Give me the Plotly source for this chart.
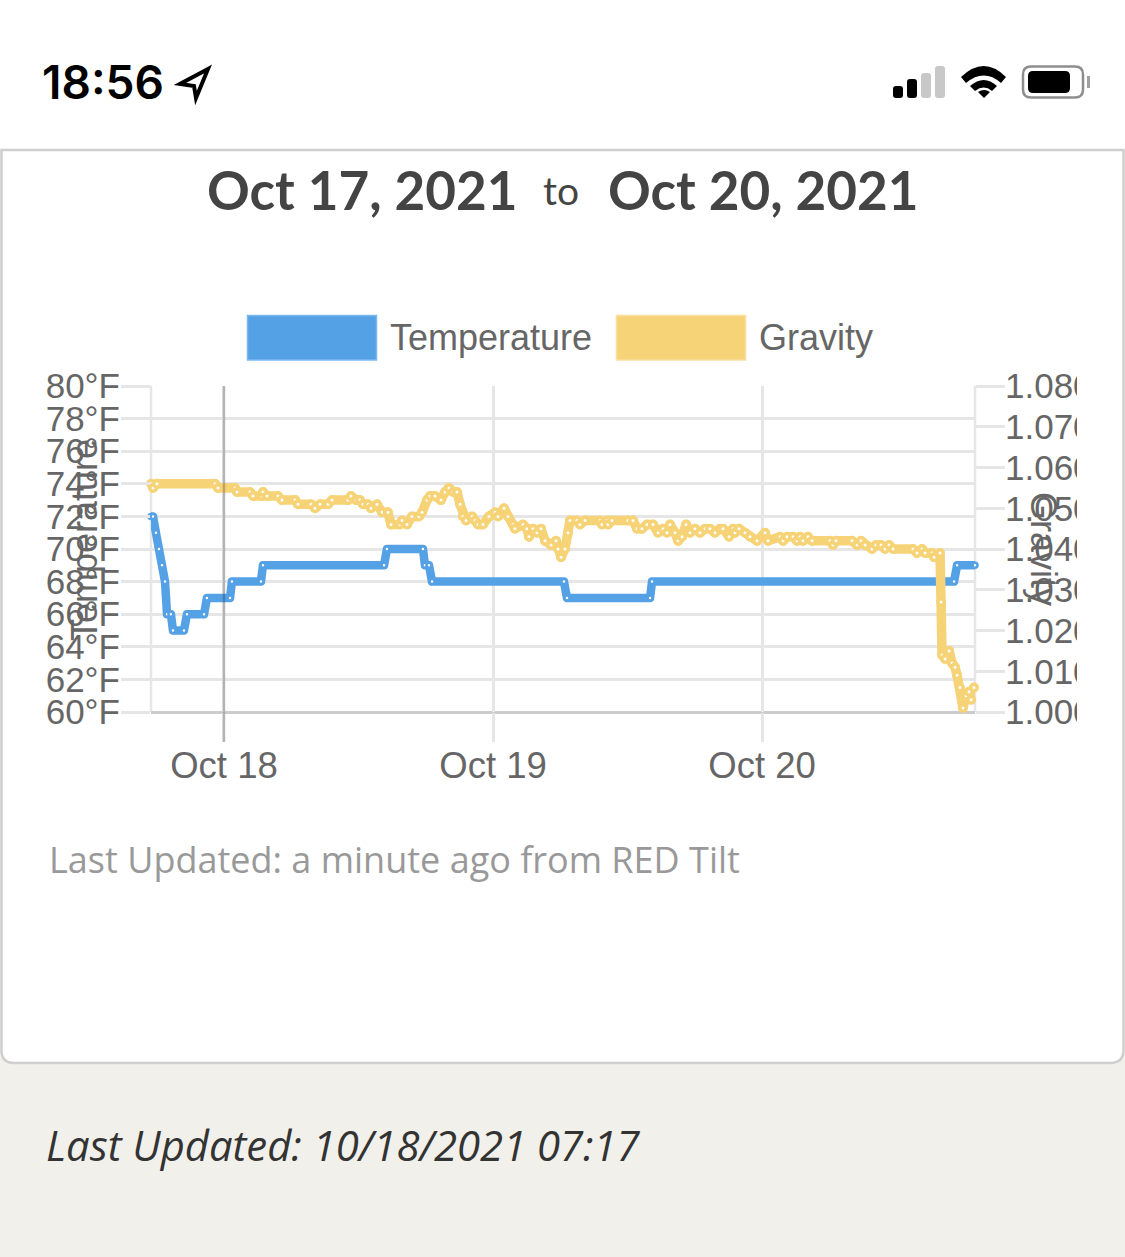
import pandas as pd
import plotly.graph_objects as go

W, H = 1125, 1257

# ---------- data (hours since 2021-10-17 00:00) ----------
temp_hours = [17.49, 17.67, 17.93, 18.20, 18.47, 18.74, 18.92, 19.27, 19.45, 20.43, 20.70, 22.22, 22.48,
              24.54, 24.71, 27.30, 27.48, 38.28, 38.54, 41.75, 41.93, 42.29, 42.56, 54.33, 54.60, 62.01,
              62.19, 89.13, 89.40, 91.00]
temp_values = [72, 72, 71, 70, 69, 68, 66, 66, 65, 65, 66, 66, 67,
               67, 68, 68, 69, 69, 70, 70, 69, 69, 68, 68, 67, 67,
               68, 68, 69, 69]

gravity_hours = [17.49, 17.67, 18.02, 23.20, 23.47, 24.98, 25.16, 26.32, 26.59, 27.39, 27.48, 27.84, 28.82,
                 29.18, 30.35, 30.60, 31.76, 32.12, 32.57, 33.28, 33.64, 35.06, 35.33, 35.78, 36.13, 36.40,
                 36.85, 37.11, 37.65, 38.10, 38.63, 38.90, 39.70, 39.88, 40.33, 40.77, 41.40, 41.67, 42.11,
                 42.38, 42.83, 43.36, 43.72, 44.07, 44.43, 44.79, 45.06, 45.32, 45.59, 46.13, 46.39, 46.66,
                 47.11, 47.64, 48.18, 48.45, 48.98, 49.34, 49.79, 49.96, 50.68, 51.03, 51.21, 51.57, 51.92,
                 52.28, 52.64, 53.18, 53.62, 53.80, 54.07, 54.42, 54.69, 54.87, 55.49, 55.76, 56.21, 57.55,
                 57.72, 58.17, 58.26, 58.62, 60.04, 60.49, 60.85, 61.29, 61.74, 62.28, 62.72, 63.17, 63.52,
                 63.79, 64.24, 64.51, 64.86, 65.22, 65.58, 66.02, 66.47, 66.92, 67.36, 67.81, 68.25, 68.52,
                 69.06, 69.41, 69.59, 69.95, 70.48, 70.93, 71.55, 72.27, 72.54, 73.61, 73.88, 74.23, 74.77,
                 75.12, 75.39, 75.66, 76.10, 76.46, 78.07, 78.33, 78.60, 80.03, 80.48, 80.83, 81.19, 81.81,
                 82.17, 82.62, 82.97, 83.33, 83.69, 85.47, 85.83, 86.28, 86.54, 87.17, 87.35, 87.88, 87.97,
                 88.06, 88.33, 88.69, 88.95, 89.22, 89.40, 89.66, 89.93, 90.20, 90.47, 90.65, 90.91]
gravity_values = [1.056, 1.055, 1.056, 1.056, 1.055, 1.055, 1.054, 1.054, 1.053, 1.053, 1.054, 1.053, 1.053,
                  1.052, 1.052, 1.051, 1.051, 1.050, 1.051, 1.051, 1.052, 1.052, 1.053, 1.052, 1.052, 1.051,
                  1.051, 1.050, 1.051, 1.049, 1.049, 1.046, 1.046, 1.047, 1.046, 1.048, 1.048, 1.049, 1.052,
                  1.053, 1.053, 1.052, 1.054, 1.055, 1.054, 1.054, 1.051, 1.048, 1.047, 1.048, 1.047, 1.046,
                  1.046, 1.048, 1.049, 1.048, 1.050, 1.048, 1.046, 1.045, 1.046, 1.045, 1.043, 1.045, 1.044,
                  1.045, 1.042, 1.041, 1.042, 1.040, 1.038, 1.040, 1.044, 1.047, 1.047, 1.046, 1.047, 1.047,
                  1.046, 1.047, 1.046, 1.047, 1.047, 1.047, 1.045, 1.045, 1.046, 1.046, 1.044, 1.045, 1.044,
                  1.046, 1.044, 1.042, 1.043, 1.046, 1.044, 1.045, 1.044, 1.045, 1.045, 1.044, 1.045, 1.045,
                  1.043, 1.045, 1.044, 1.045, 1.044, 1.043, 1.042, 1.044, 1.042, 1.043, 1.042, 1.043, 1.043,
                  1.042, 1.043, 1.042, 1.043, 1.042, 1.042, 1.041, 1.042, 1.042, 1.041, 1.042, 1.041, 1.040,
                  1.041, 1.041, 1.040, 1.041, 1.040, 1.040, 1.039, 1.040, 1.039, 1.039, 1.038, 1.039, 1.027,
                  1.014, 1.013, 1.015, 1.012, 1.011, 1.009, 1.006, 1.001, 1.004, 1.005, 1.003, 1.006]

series_names = ["Temperature", "Gravity"]
date_from, date_to = "Oct 17, 2021", "Oct 20, 2021"

# ---------- styles ----------
BLUE, YELLOW = "#55a1e6", "#f7d377"
GRID, TICKTXT = "#e6e6e6", "#666666"
base = pd.Timestamp("2021-10-17")
to_dt = lambda hs: [base + pd.Timedelta(hours=h) for h in hs]
px = lambda x: x / W
py = lambda y: 1 - y / H
SANS = "Liberation Sans"


def P(*cmds):
    out = []
    for c in cmds:
        if isinstance(c, str):
            out.append(c)
        else:
            out.append(f"{px(c[0]):.5f},{py(c[1]):.5f}")
    return " ".join(out)


def rect(x0, y0, x1, y1, fill, line=None, lw=0, layer="below"):
    return dict(type="rect", xref="paper", yref="paper", x0=px(x0), x1=px(x1), y0=py(y0), y1=py(y1),
                fillcolor=fill, line=dict(color=line or fill, width=lw), layer=layer)


def path(d, fill, line=None, lw=0, layer="below"):
    return dict(type="path", xref="paper", yref="paper", path=d, fillcolor=fill,
                line=dict(color=line or fill, width=lw), layer=layer)


def rrect(x0, y0, x1, y1, r, fill, line=None, lw=0):
    return path(P("M", (x0 + r, y0), "L", (x1 - r, y0), "Q", (x1, y0), (x1, y0 + r), "L", (x1, y1 - r),
                  "Q", (x1, y1), (x1 - r, y1), "L", (x0 + r, y1), "Q", (x0, y1), (x0, y1 - r),
                  "L", (x0, y0 + r), "Q", (x0, y0), (x0 + r, y0), "Z"), fill, line, lw, layer="above")


def seg(x0, y0, x1, y1, color, width, layer="between"):
    return dict(type="line", xref="paper", yref="paper", x0=px(x0), x1=px(x1), y0=py(y0), y1=py(y1),
                line=dict(color=color, width=width), layer=layer)


def text(x, y, s, size, color, family=SANS, anchor="left", weight=None, style=None, angle=0):
    f = dict(size=size, color=color, family=family)
    if weight:
        f["weight"] = weight
    if style:
        f["style"] = style
    return dict(x=px(x), y=py(y), xref="paper", yref="paper", text=s, showarrow=False, xanchor=anchor,
                yanchor="middle", font=f, textangle=angle, borderpad=0, borderwidth=0)


fig = go.Figure()
fig.add_trace(go.Scatter(x=to_dt(temp_hours), y=temp_values, name=series_names[0], mode="lines+markers", yaxis="y",
                         line=dict(color=BLUE, width=8.5), cliponaxis=False,
                         marker=dict(color="white", size=5, line=dict(color=BLUE, width=2.5))))
fig.add_trace(go.Scatter(x=to_dt(gravity_hours), y=gravity_values, name=series_names[1], mode="lines+markers", yaxis="y2",
                         line=dict(color=YELLOW, width=9.5), cliponaxis=False,
                         marker=dict(color="white", size=6.5, line=dict(color=YELLOW, width=3.5))))

oct18 = base + pd.Timedelta(hours=24)
shapes = [
    rect(0, 0, W, 150, "white"),
    path(P("M", (1.5, 150), "L", (1.5, 1050), "Q", (1.5, 1063), (14, 1063), "L", (1110, 1063),
           "Q", (1123.5, 1063), (1123.5, 1050), "L", (1123.5, 150), "Z"), "white", "#cfcfcf", 2.5),
    # legend swatches
    rect(247.5, 315.5, 376.5, 360, BLUE, "#7db8ee", 1.5),
    rect(616.5, 315.5, 745.5, 360, YELLOW, "#f9e0a0", 1.5),
    # clip of the right-hand tick labels
    rect(1077, 360, 1120, 735, "white", layer="above"),
    # plot frame lines
    seg(151, 386, 151, 712, GRID, 2.5),
    seg(975, 386, 975, 712, GRID, 2.5),
    seg(151, 712.5, 975, 712.5, "#cccccc", 3),
    # darker Oct 18 gridline
    dict(type="line", xref="x", yref="paper", x0=oct18, x1=oct18,
         y0=py(742), y1=py(386), line=dict(color="rgba(0,0,0,0.22)", width=2.5), layer="above"),
    # status bar: signal
    rrect(893, 86, 903, 98, 3, "black"),
    rrect(907, 79, 917, 98, 3, "black"),
    rrect(921, 73, 931, 98, 3, "#c8c8c8"),
    rrect(935, 66, 945, 98, 3, "#c8c8c8"),
    # wifi
    path(P("M", (961, 77), "Q", (984, 55), (1006, 77), "L", (1001, 83), "Q", (984, 68), (966, 83), "Z"), "black", layer="above"),
    path(P("M", (970, 86), "Q", (984, 74), (997, 86), "L", (992, 91), "Q", (984, 84), (975, 91), "Z"), "black", layer="above"),
    path(P("M", (978, 92), "Q", (984, 88), (990, 92), "L", (984, 98), "Z"), "black", layer="above"),
    # battery
    rrect(1023, 66.5, 1083, 97.5, 8, "white", "#8e8e8e", 2.5),
    rrect(1028, 71, 1070, 93, 5, "black"),
    rect(1087, 76, 1090, 88, "#a0a0a0", layer="above"),
    # location arrow
    path(P("M", (208, 69), "L", (180, 84), "L", (194, 86), "L", (196, 98), "Z"), "white", "black", 4, layer="above"),
]

annotations = [
    text(42, 82, "18:56", 46, "black", "Inter", weight=600),
    text(207, 189.5, date_from, 53, "#444444", "Lato", weight=700),
    text(543, 190, "to", 39, "#444444", "Lato"),
    text(608, 189.5, date_to, 53, "#444444", "Lato", weight=700),
    text(390, 337.5, series_names[0], 36, TICKTXT),
    text(759, 337.5, series_names[1], 36, TICKTXT),
    text(84, 540, series_names[0], 36, TICKTXT, anchor="center", angle=-90),
    text(1044, 549, series_names[1], 36, TICKTXT, anchor="center", angle=90),
    text(48.5, 859, "Last Updated: a minute ago from RED Tilt", 36, "#999999", "Open Sans"),
    text(46, 1144.5, "Last Updated: 10/18/2021 07:17", 41.8, "#333333", "Open Sans", style="italic"),
]

fig.update_layout(
    width=W, height=H, autosize=False, margin=dict(l=0, r=0, t=0, b=0, pad=0, autoexpand=False),
    paper_bgcolor="#f1f0eb", plot_bgcolor="rgba(0,0,0,0)", showlegend=False,
    shapes=shapes, annotations=annotations, hovermode=False,
    font=dict(family=SANS, color=TICKTXT, size=35),
    xaxis=dict(domain=[px(151), px(975)], type="date",
               range=[base + pd.Timedelta(hours=17.49), base + pd.Timedelta(hours=91.0)],
               tick0="2021-10-18", dtick=86400000, tickformat="%b %d",
               showgrid=True, gridcolor=GRID, gridwidth=2.5, zeroline=False, showline=False,
               ticks="outside", ticklen=29, tickcolor=GRID, tickwidth=2.5, ticklabelstandoff=-8,
               tickfont=dict(size=36.5, color=TICKTXT)),
    yaxis=dict(domain=[py(712), py(386)], range=[60, 80], dtick=2, ticksuffix="°F",
               showgrid=True, gridcolor=GRID, gridwidth=3, zeroline=False, showline=False,
               ticks="outside", ticklen=29, tickcolor=GRID, tickwidth=3, ticklabelstandoff=-6,
               tickfont=dict(size=35, color=TICKTXT)),
    yaxis2=dict(overlaying="y", side="right", anchor="x", range=[1.0, 1.08], dtick=0.01, tickformat=".3f",
                showgrid=False, zeroline=False, showline=False,
                ticks="outside", ticklen=29, tickcolor=GRID, tickwidth=3, ticklabelstandoff=-7,
                tickfont=dict(size=35, color=TICKTXT)),
)

POST = """
document.body.style.margin='0';document.body.style.overflow='hidden';
function roundLines(){
  document.querySelectorAll('.scatterlayer .js-line').forEach(function(p){
    p.style.strokeLinejoin='round';p.style.strokeLinecap='round';});
  document.querySelectorAll('.overplot .plot, .scatterlayer, .scatterlayer .trace').forEach(function(g){
    g.removeAttribute('clip-path');});
}
roundLines();setTimeout(roundLines,50);setTimeout(roundLines,300);
"""
fig.write_html("out.html", config=dict(displayModeBar=False), post_script=POST)
